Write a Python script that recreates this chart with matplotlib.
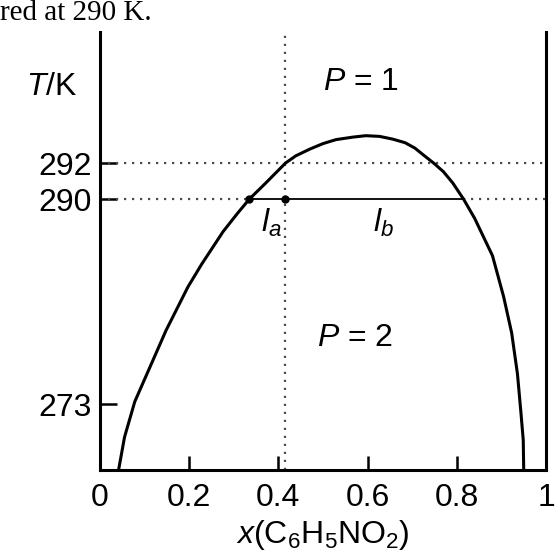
import numpy as np
import matplotlib.pyplot as plt

plt.rcParams['font.family'] = ['Liberation Sans', 'DejaVu Sans']
plt.rcParams['mathtext.fontset'] = 'custom'
plt.rcParams['mathtext.rm'] = 'Liberation Sans'
plt.rcParams['mathtext.it'] = 'Liberation Sans:italic'

# 共存曲线
x_curve = [0.042, 0.055, 0.078, 0.116, 0.148, 0.197, 0.228, 0.276, 0.308, 0.335,
           0.370, 0.386, 0.416, 0.439, 0.471, 0.500, 0.529, 0.567, 0.596, 0.627,
           0.656, 0.684, 0.706, 0.727, 0.748, 0.770, 0.791, 0.815, 0.840, 0.880,
           0.905, 0.923, 0.936, 0.944, 0.949, 0.950]
T_curve = [267.6, 270.26, 273.2, 276.4, 279.1, 282.7, 284.6, 287.3, 288.8, 290.0,
           290.85, 291.25, 292.0, 292.4, 292.78, 293.08, 293.3, 293.44, 293.52, 293.48,
           293.33, 293.13, 292.83, 292.41, 292.0, 291.52, 290.89, 290.0, 288.4, 285.3,
           281.9, 278.9, 275.5, 272.2, 270.0, 267.6]

# 290 K 时的连接线
T_tie = 290
T_upper = 292
x_a = 0.335   # l_a
x_b = 0.815   # l_b
x_0 = 0.415   # 总组成

x_ticks = [0, 0.2, 0.4, 0.6, 0.8, 1]
x_ticklabels = ['0', '0.2', '0.4', '0.6', '0.8', '1']
T_ticks = [273, 290, 292]

# 原图纵轴不是线性的, 用分段线性刻度
T_knots = [250, 273, 290, 292, 320]
h_knots = [-211.4, 66, 271, 307, 811]


def fwd(t):
    return np.interp(t, T_knots, h_knots)


def inv(h):
    return np.interp(h, h_knots, T_knots)


fig = plt.figure(figsize=(5.55, 5.57), dpi=100)
ax = fig.add_axes([100 / 555, 87 / 557, 446 / 555, 438 / 557])
ax.set_yscale('function', functions=(fwd, inv))

dot = dict(color='0.3', lw=1.6, linestyle=(0, (1, 2.6)))

# 虚线
ax.axhline(T_upper, **dot)
ax.axvline(x_0, **dot)
ax.plot([0, x_a], [T_tie, T_tie], **dot)
ax.plot([x_b, 1], [T_tie, T_tie], **dot)

# 连接线和曲线
ax.plot([x_a, x_b], [T_tie, T_tie], color='black', lw=1.3)
ax.plot(x_curve, T_curve, color='black', lw=2.2, solid_joinstyle='round')
ax.plot([x_a, x_0], [T_tie, T_tie], 'o', color='black', ms=5)

ax.set_xlim(0, 1)
ax.set_ylim(267.53, 299.28)

ax.set_xticks(x_ticks)
ax.set_xticklabels(x_ticklabels)
ax.set_yticks(T_ticks)
ax.set_yticklabels([str(t) for t in T_ticks])
ax.tick_params(axis='x', direction='in', length=10, width=1.8, pad=9, labelsize=23)
ax.tick_params(axis='y', direction='in', length=12, width=1.8, pad=6, labelsize=23)

ax.spines['top'].set_visible(False)
for s in ['left', 'right', 'bottom']:
    ax.spines[s].set_linewidth(2.2)

# 文字
ax.text(x_a + 0.05, 288.0, r'$l_a$', fontsize=23, ha='center', va='center')
ax.text(0.636, 288.0, r'$l_b$', fontsize=23, ha='center', va='center')
ax.text(0.585, 296.5, r'$P$ = 1', fontsize=23, ha='center', va='center')
ax.text(0.572, 278.5, r'$P$ = 2', fontsize=23, ha='center', va='center')
ax.text(-0.05, 296.2, r'$T$/K', fontsize=23, ha='right', va='center')

ax.set_xlabel(r'$x$(C$_6$H$_5$NO$_2$)', fontsize=23, labelpad=4)

fig.text(0.0, 1 - 20 / 557, 'red at 290 K.', fontsize=21,
         family='Liberation Serif', ha='left', va='baseline')

fig.savefig('out.png', dpi=100)
